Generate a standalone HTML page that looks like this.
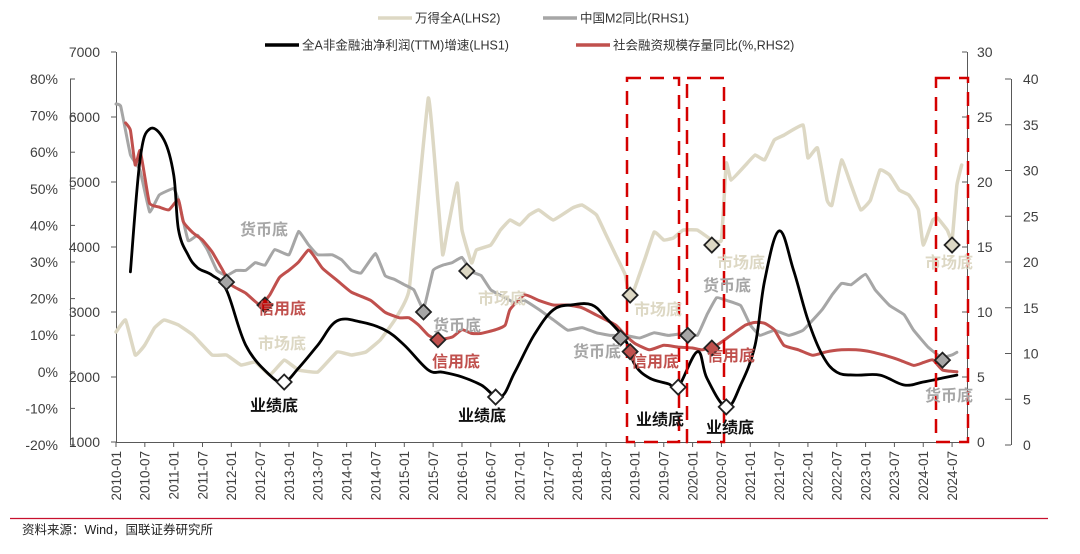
<!DOCTYPE html>
<html><head><meta charset="utf-8">
<style>
html,body{margin:0;padding:0;background:#fff;}
body{width:1080px;height:549px;overflow:hidden;font-family:"Liberation Sans","Noto Sans CJK SC",sans-serif;}
svg text{font-family:"Liberation Sans","Noto Sans CJK SC",sans-serif;}
</style></head>
<body>
<svg id="chart" width="1080" height="549" viewBox="0 0 1080 549" xmlns="http://www.w3.org/2000/svg"></svg>
<script>
// ---- data ----
const profitDates = ["2010-04","2010-06","2010-08","2010-11","2011-01","2011-02","2011-04","2011-06","2011-09","2011-12","2012-04","2012-09","2012-12","2013-03","2013-07","2013-11","2014-04","2014-09","2015-01","2015-06","2015-09","2016-01","2016-05","2016-09","2016-12","2017-04","2017-08","2017-12","2018-04","2018-07","2018-11","2019-01","2019-04","2019-08","2019-10","2020-02","2020-04","2020-08","2020-11","2021-02","2021-04","2021-07","2021-10","2022-01","2022-04","2022-07","2022-11","2023-04","2023-09","2024-01","2024-05","2024-08"];
const profitValues = [27.3,57.9,66.3,63.3,53.8,38.8,31.9,28.4,26.4,22.3,7.3,-0.9,-2.8,1.0,7.3,13.9,13.6,11.4,7.3,0.5,-0.1,-1.4,-3.6,-6.9,-0.1,10,16.9,18.3,18.3,14.7,8.7,1.9,-1.7,-3.3,-4.2,5.5,-1.8,-9.6,-3.6,7.3,25,38.5,27.8,14.2,4.6,-0.1,-0.9,-0.9,-3.6,-2.8,-1.7,-0.9];

const windDates = ["2010-01","2010-03","2010-05","2010-07","2010-09","2010-11","2011-02","2011-05","2011-09","2011-12","2012-03","2012-06","2012-09","2012-12","2013-03","2013-07","2013-11","2014-02","2014-05","2014-08","2014-11","2015-02","2015-06","2015-08","2015-09","2015-10","2015-12","2016-01","2016-03","2016-04","2016-07","2016-09","2016-11","2017-01","2017-03","2017-05","2017-08","2017-12","2018-02","2018-05","2018-07","2018-09","2018-11","2018-12","2019-03","2019-05","2019-07","2019-09","2019-11","2020-02","2020-05","2020-07","2020-08","2020-09","2020-12","2021-02","2021-04","2021-06","2021-08","2021-12","2022-01","2022-03","2022-05","2022-06","2022-08","2022-10","2022-12","2023-02","2023-04","2023-06","2023-08","2023-10","2023-12","2024-01","2024-03","2024-04","2024-06","2024-07","2024-08","2024-09"];
const windValues = [2692,2877,2338,2492,2754,2877,2800,2646,2338,2338,2185,2230,2030,2260,2108,2077,2385,2338,2385,2570,2877,3340,6290,4720,3880,4260,4985,4260,3754,3954,4030,4260,4415,4340,4492,4570,4415,4600,4646,4492,4185,3877,3570,3185,3800,4230,4108,4138,4260,4260,4108,4108,5290,5030,5260,5415,5340,5646,5720,5877,5370,5523,4720,4646,5338,4953,4570,4720,5185,5108,4877,4800,4570,4030,4415,4446,4260,4108,4953,5260];

const m2Dates = ["2010-01","2010-02","2010-04","2010-06","2010-08","2010-10","2011-01","2011-02","2011-04","2011-06","2011-08","2011-10","2011-12","2012-02","2012-04","2012-06","2012-08","2012-10","2013-01","2013-03","2013-05","2013-07","2013-10","2013-12","2014-02","2014-04","2014-07","2014-09","2014-11","2015-01","2015-03","2015-05","2015-07","2015-09","2015-11","2016-01","2016-03","2016-05","2016-07","2016-10","2016-12","2017-02","2017-05","2017-08","2017-11","2018-02","2018-05","2018-08","2018-11","2019-02","2019-05","2019-08","2019-12","2020-02","2020-04","2020-06","2020-08","2020-11","2021-01","2021-03","2021-06","2021-09","2021-12","2022-04","2022-06","2022-08","2022-10","2023-01","2023-03","2023-06","2023-09","2023-11","2024-02","2024-04","2024-05","2024-07","2024-08"];
const m2Values = [26.0,25.8,22.1,20.9,17.7,19.0,19.5,18.6,15.5,15.9,14.8,13.2,12.8,13.2,13.2,13.8,13.6,14.8,14.4,16.2,15.2,14.4,14.4,14.0,13.2,13.0,14.5,12.8,12.5,12.1,11.7,10.2,13.2,13.6,13.8,14.2,13.1,12.8,11.7,11.1,10.7,10.9,10.2,9.4,8.6,8.8,8.4,8.2,8.2,8.0,8.4,8.2,8.4,8.2,9.8,11.1,10.9,10.5,9.0,8.2,8.6,8.2,8.6,10.2,11.3,12.2,12.1,12.9,11.7,10.5,9.8,8.6,7.3,6.7,6.5,6.7,6.9];

const tsfDates = ["2010-03","2010-04","2010-05","2010-06","2010-07","2010-08","2010-10","2010-12","2011-02","2011-03","2011-05","2011-07","2011-09","2011-11","2012-01","2012-04","2012-07","2012-09","2012-11","2013-01","2013-03","2013-05","2013-06","2013-08","2013-11","2014-02","2014-06","2014-09","2014-12","2015-02","2015-04","2015-06","2015-08","2015-11","2016-01","2016-03","2016-05","2016-08","2016-10","2016-11","2017-02","2017-05","2017-08","2017-11","2018-02","2018-05","2018-09","2018-11","2019-01","2019-04","2019-07","2019-10","2020-01","2020-03","2020-06","2020-09","2020-12","2021-02","2021-04","2021-06","2021-08","2021-11","2022-02","2022-05","2022-08","2022-11","2023-02","2023-05","2023-08","2023-11","2024-01","2024-03","2024-05","2024-08"];
const tsfValues = [35.2,34.4,30.6,32.2,29.3,26.4,26.0,25.7,26.8,24.4,23.2,22.4,21.1,19.3,17.5,16.6,15.3,16.4,18.3,19.1,20.0,21.3,20.8,19.3,18.0,16.7,15.8,14.5,13.9,13.9,13.1,12.0,11.5,11.8,12.6,12.2,12.2,12.6,13.1,14.8,16.4,15.8,15.3,15.3,15.0,14.2,13.1,12.0,11.1,10.4,10.9,10.7,10.6,10.4,10.9,12.0,13.1,13.4,13.3,12.6,10.9,10.4,9.8,10.2,10.4,10.4,10.2,9.8,9.3,8.7,9.0,9.3,8.2,8.0];

const pctTicks = [-20,-10,0,10,20,30,40,50,60,70,80];
const windTicks = [1000,2000,3000,4000,5000,6000,7000];
const m2Ticks = [0,5,10,15,20,25,30];
const tsfTicks = [0,5,10,15,20,25,30,35,40];
const xTickLabels = ["2010-01","2010-07","2011-01","2011-07","2012-01","2012-07","2013-01","2013-07","2014-01","2014-07","2015-01","2015-07","2016-01","2016-07","2017-01","2017-07","2018-01","2018-07","2019-01","2019-07","2020-01","2020-07","2021-01","2021-07","2022-01","2022-07","2023-01","2023-07","2024-01","2024-07"];

const markers = [
 ["gray","2011-12","m2",12.3],["red","2012-08","tsf",15.3],["white","2012-12","pct",-2.8],
 ["gray","2015-05","m2",10.0],["red","2015-08","tsf",11.5],["beige","2016-02","wind",3630],["white","2016-08","pct",-6.9],
 ["gray","2018-10","m2",8.0],["beige","2018-12","wind",3260],["red","2018-12","tsf",10.2],["white","2019-10","pct",-4.2],
 ["gray","2019-12","m2",8.2],["beige","2020-05","wind",4030],["red","2020-05","tsf",10.6],["white","2020-08","pct",-9.6],
 ["beige","2024-07","wind",4030],["gray","2024-05","m2",6.3]
];

// ---- scales ----
const X0 = 116, PXM = 4.805;
function mIdx(d){const p=d.split('-');return (+p[0]-2010)*12+(+p[1]-1);}
function xS(d){return X0+mIdx(d)*PXM;}
const yS = {
 pct: v=>445-(v+20)*3.66,
 wind: v=>442-(v-1000)*0.065,
 m2: v=>442-v*13,
 tsf: v=>445-v*9.15
};

const svg = document.getElementById('chart');
const NS="http://www.w3.org/2000/svg";
function mk(tag, attrs, parent){const e=document.createElementNS(NS,tag);for(const k in attrs)e.setAttribute(k,attrs[k]);(parent||svg).appendChild(e);return e;}
function txt(s, attrs, parent){const e=mk('text',attrs,parent);e.textContent=s;return e;}

function smoothPath(pts,t){
 let d=`M${pts[0][0].toFixed(1)},${pts[0][1].toFixed(1)}`;
 for(let i=0;i<pts.length-1;i++){
  const p0=pts[i-1]||pts[i],p1=pts[i],p2=pts[i+1],p3=pts[i+2]||p2;
  const c1=[p1[0]+(p2[0]-p0[0])*t,p1[1]+(p2[1]-p0[1])*t];
  const c2=[p2[0]-(p3[0]-p1[0])*t,p2[1]-(p3[1]-p1[1])*t];
  d+=`C${c1[0].toFixed(1)},${c1[1].toFixed(1)} ${c2[0].toFixed(1)},${c2[1].toFixed(1)} ${p2[0].toFixed(1)},${p2[1].toFixed(1)}`;
 }
 return d;
}

// ---- legend ----
const lg = mk('g',{});


const legendItems=[
 [378,18,"#ddd8c4","万得全A(LHS2)","legend-wind-a"],
 [543,18,"#a6a6a6","中国M2同比(RHS1)","legend-m2"],
 [265,45,"#000000","全A非金融油净利润(TTM)增速(LHS1)","legend-profit"],
 [576,45,"#c0504d","社会融资规模存量同比(%,RHS2)","legend-tsf"]
];
legendItems.forEach(it=>{
 const g=mk('g',{},lg);
 
 
 mk('line',{x1:it[0],x2:it[0]+34,y1:it[1],y2:it[1],stroke:it[2],'stroke-width':3.5},g);
 txt(it[3],{x:it[0]+37,y:it[1]+4.5,'font-size':12.5,fill:'#333'},g);
});

// ---- axes ----
const ax = mk('g',{'font-size':14,fill:'#404040'});


mk('line',{x1:70.5,x2:70.5,y1:79,y2:445,stroke:'#595959','stroke-width':1},ax);
pctTicks.forEach(v=>{const y=yS.pct(v);mk('line',{x1:70,x2:75,y1:y,y2:y,stroke:'#595959'},ax);txt(v+'%',{x:58,y:y+5,'text-anchor':'end'},ax);});
mk('line',{x1:116.5,x2:116.5,y1:52,y2:442,stroke:'#595959'},ax);
windTicks.forEach(v=>{const y=yS.wind(v);mk('line',{x1:111,x2:116,y1:y,y2:y,stroke:'#595959'},ax);txt(String(v),{x:100,y:y+5,'text-anchor':'end'},ax);});
mk('line',{x1:967.5,x2:967.5,y1:52,y2:442,stroke:'#595959'},ax);
m2Ticks.forEach(v=>{const y=yS.m2(v);mk('line',{x1:962,x2:967,y1:y,y2:y,stroke:'#595959'},ax);txt(String(v),{x:977,y:y+5},ax);});
mk('line',{x1:1011.5,x2:1011.5,y1:79,y2:445,stroke:'#595959'},ax);
tsfTicks.forEach(v=>{const y=yS.tsf(v);mk('line',{x1:1005,x2:1011,y1:y,y2:y,stroke:'#595959'},ax);txt(String(v),{x:1023,y:y+5},ax);});
mk('line',{x1:116,x2:967,y1:442.5,y2:442.5,stroke:'#595959'},ax);
xTickLabels.forEach(d=>{const x=xS(d);mk('line',{x1:x,x2:x,y1:442,y2:447,stroke:'#595959'},ax);
 txt(d,{x:0,y:0,'text-anchor':'end','font-size':13.5,transform:`translate(${x+4.8},451) rotate(-90)`},ax);});

// ---- series ----
function series(dates, vals, axis, color, w, name, t){
 const pts=dates.map((d,i)=>[xS(d),yS[axis](vals[i])]);
 const p=mk('path',{d:smoothPath(pts,t),fill:'none',stroke:color,'stroke-width':w,'stroke-linejoin':'round','stroke-linecap':'round'});
 
 
}
series(windDates,windValues,'wind','#ddd8c4',3.5,'wind-a-line',0.05);
series(m2Dates,m2Values,'m2','#a6a6a6',3,'m2-line',0.05);
series(tsfDates,tsfValues,'tsf','#c0504d',3,'tsf-line',0.08);
series(profitDates,profitValues,'pct','#000000',2.8,'profit-growth-line',0.18);

// ---- red dashed boxes ----
const boxes=[[627,679,'box-2019'],[687,724,'box-2020'],[936,968,'box-2024']];
boxes.forEach(b=>{
 const r=mk('rect',{x:b[0],y:78,width:b[1]-b[0],height:364,fill:'none',stroke:'#d40000','stroke-width':2.5,'stroke-dasharray':'14,9'});
 
 
});

// ---- markers ----
const fills={gray:'#a6a6a6',red:'#c0504d',white:'#ffffff',beige:'#ddd8c4'};
markers.forEach((m,i)=>{
 const x=xS(m[1]),y=yS[m[2]](m[3]);
 const f=(i===1)?'#c00000':fills[m[0]];
 const d=mk('path',{d:`M${x},${y-7.5}L${x+7.5},${y}L${x},${y+7.5}L${x-7.5},${y}Z`,fill:f,stroke:'#222','stroke-width':1.8});
 
 
});

// ---- labels ----
const labels=[
 ["货币底",240,235,'#a6a6a6'],["信用底",258,314,'#c0504d'],["市场底",258,349,'#ddd8c4'],["业绩底",250,411,'#111'],
 ["货币底",433,331,'#a6a6a6'],["信用底",432,367,'#c0504d'],["市场底",478,304,'#ddd8c4'],["业绩底",458,421,'#111'],
 ["货币底",573,357,'#a6a6a6'],["市场底",634,315,'#ddd8c4'],["信用底",631,367,'#c0504d'],["业绩底",636,425,'#111'],
 ["货币底",703,291,'#a6a6a6'],["市场底",717,268,'#ddd8c4'],["信用底",707,361,'#c0504d'],["业绩底",706,433,'#111'],
 ["市场底",925,268,'#ddd8c4'],["货币底",925,401,'#a6a6a6']
];
labels.forEach(l=>{
 const t=txt(l[0],{x:l[1],y:l[2],'font-size':16,'font-weight':'bold',fill:l[3]});
 
 
});

// ---- source ----
const sl=mk('line',{x1:10,x2:1048,y1:518.5,y2:518.5,stroke:'#c8102e','stroke-width':1.2});


const st=txt('资料来源：Wind，国联证券研究所',{x:22,y:534,'font-size':12.5,fill:'#222','font-family':'"Liberation Mono","Noto Sans CJK SC",monospace'});


</script>
</body></html>
